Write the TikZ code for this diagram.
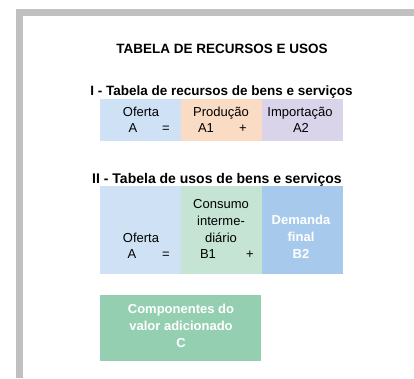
\documentclass[tikz,border=0pt]{standalone}
\usepackage{fontspec}
\setmainfont{Liberation Sans}
\usepackage{tikz}
\definecolor{ofertablue}{HTML}{CFE2F5}
\definecolor{prodorange}{HTML}{FADBC4}
\definecolor{imppurple}{HTML}{DAD4EA}
\definecolor{consgreen}{HTML}{C5E4D4}
\definecolor{demblue}{HTML}{A7C9EC}
\definecolor{valgreen}{HTML}{94CFB1}
\definecolor{framegray}{HTML}{C0C0C0}
\tikzset{
% cells of the two tables and plain / white labels
cell/.style={rectangle,inner sep=0,minimum width=81pt},
txt/.style={anchor=base,inner sep=0,font=\fontsize{13}{16.8}\selectfont,align=center},
wtxt/.style={txt,text=white,font=\fontsize{13}{16.8}\selectfont\bfseries},
head/.style={anchor=base,inner sep=0,font=\fontsize{13.5}{16}\selectfont\bfseries}
}

\begin{document}
\begin{tikzpicture}[x=1pt,y=-1pt]
\useasboundingbox (0,0) rectangle (414,378);
\draw[framegray,line width=7pt] (19.5,378) -- (19.5,12.5) -- (414,12.5);

\node[head] (title) at (222,53) {TABELA DE RECURSOS E USOS};
\node[head] (headI) at (221.5,95) {I - Tabela de recursos de bens e serviços};
\node[head,font=\fontsize{14}{16}\selectfont\bfseries] (headII) at (217,183) {II - Tabela de usos de bens e serviços};

% table I
\node[cell,fill=ofertablue,minimum height=42pt] (oferI) at (140,120){};
\node[cell,fill=prodorange,minimum height=42pt] (prod) at (221,120){};
\node[cell,fill=imppurple,minimum height=42pt] (imp) at (302,120){};
\node[txt] at (141,116) {Oferta};
\node[txt] at (133,132) {A};
\node[txt] at (166,132) {=};
\node[txt] at (221,116) {Produção};
\node[txt] at (206,132) {A1};
\node[txt] at (243,132) {+};
\node[txt] at (300,116) {Importação};
\node[txt] at (301,132) {A2};

% table II
\node[cell,fill=ofertablue,minimum height=88pt] (oferII) at (140,230){};
\node[cell,fill=consgreen,minimum height=88pt] (cons) at (221,230){};
\node[cell,fill=demblue,minimum height=88pt] (dem) at (302,230){};
\node[txt] at (141,242) {Oferta};
\node[txt] at (132,258) {A};
\node[txt] at (166,258) {=};
\node[txt] at (221,242) {Consumo\\interme-\\diário};
\node[txt] at (208,258) {B1};
\node[txt] at (250,258) {+};
\node[wtxt] at (301,258) {Demanda\\final\\B2};

\node[cell,fill=valgreen,minimum width=161pt,minimum height=66pt] (valor) at (180.5,328){};
\node[wtxt] at (181,347) {Componentes do\\valor adicionado\\C};
\end{tikzpicture}
\end{document}
